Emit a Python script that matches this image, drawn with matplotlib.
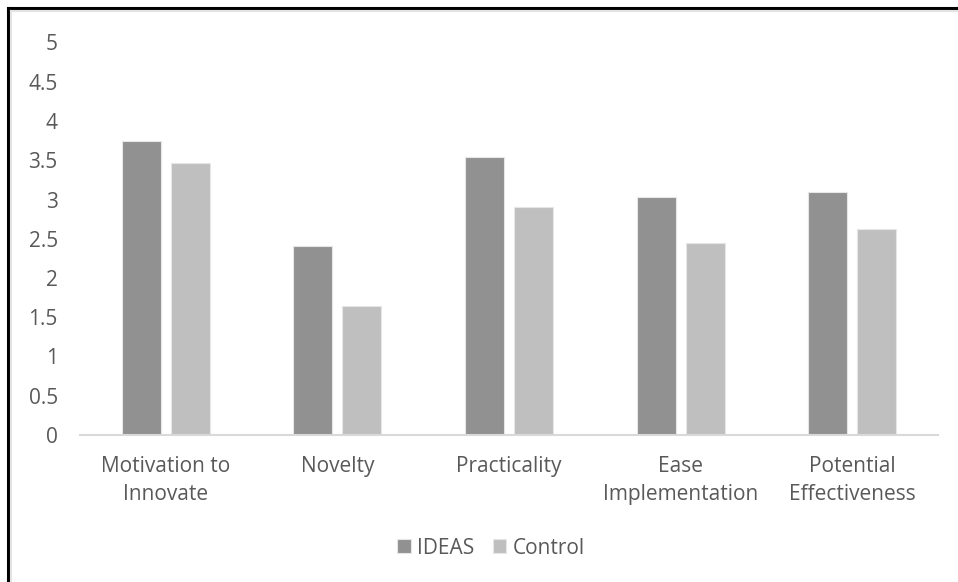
import numpy as np
import matplotlib.pyplot as plt
from matplotlib.lines import Line2D

# data
categories = ['Motivation to\nInnovate', 'Novelty', 'Practicality',
              'Ease\nImplementation', 'Potential\nEffectiveness']
ideas = [3.75, 2.41, 3.545, 3.03, 3.09]
control = [3.47, 1.64, 2.91, 2.44, 2.63]
y_ticks = [0, 0.5, 1, 1.5, 2, 2.5, 3, 3.5, 4, 4.5, 5]
y_labels = ['0', '0.5', '1', '1.5', '2', '2.5', '3', '3.5', '4', '4.5', '5']

plt.rcParams['font.family'] = ['Open Sans', 'DejaVu Sans']
text_color = '#595959'
fs = 15

fig = plt.figure(figsize=(9.58, 5.82), dpi=100)
ax = fig.add_axes([80 / 958, 1 - 435 / 582, 858 / 958, (435 - 42.5) / 582])

x = np.arange(len(categories))
w = 0.227
gap = 0.058
ax.bar(x - (w + gap) / 2, ideas, w, color='#919191', edgecolor='#e6e6e6',
       linewidth=0.8, label='IDEAS')
ax.bar(x + (w + gap) / 2, control, w, color='#bfbfbf', edgecolor='#e6e6e6',
       linewidth=0.8, label='Control')

ax.set_xlim(-0.5, len(categories) - 0.5)
ax.set_ylim(0, 5)
ax.set_yticks(y_ticks)
ax.set_yticklabels(y_labels)
ax.set_xticks(x)
ax.set_xticklabels(categories, linespacing=1.45)
ax.tick_params(axis='y', length=0, pad=16, labelsize=fs, labelcolor=text_color)
ax.tick_params(axis='x', length=0, pad=15, labelsize=fs, labelcolor=text_color)

for s in ['top', 'right', 'left']:
    ax.spines[s].set_visible(False)
ax.spines['bottom'].set_color('#d9d9d9')
ax.spines['bottom'].set_linewidth(1.5)

leg = fig.legend(loc='center', bbox_to_anchor=(491 / 958, 1 - 548 / 582),
                 ncol=2, frameon=False, fontsize=fs, handlelength=0.65,
                 handleheight=0.65, handletextpad=0.3, columnspacing=0.9)
for t in leg.get_texts():
    t.set_color(text_color)

# black frame on the left and top edges, with a thin grey line inside
fig.add_artist(Line2D([8 / 958, 8 / 958], [0, 1 - 8 / 582], color='black',
                      linewidth=2.2, transform=fig.transFigure))
fig.add_artist(Line2D([8 / 958, 1], [1 - 8 / 582, 1 - 8 / 582], color='black',
                      linewidth=2.2, transform=fig.transFigure))
fig.add_artist(Line2D([11 / 958, 11 / 958], [0, 1 - 11 / 582], color='#e3e3e3',
                      linewidth=1.5, transform=fig.transFigure))
fig.add_artist(Line2D([11 / 958, 1], [1 - 11 / 582, 1 - 11 / 582], color='#e3e3e3',
                      linewidth=1.5, transform=fig.transFigure))

fig.savefig('out.png', dpi=100, facecolor='white')
